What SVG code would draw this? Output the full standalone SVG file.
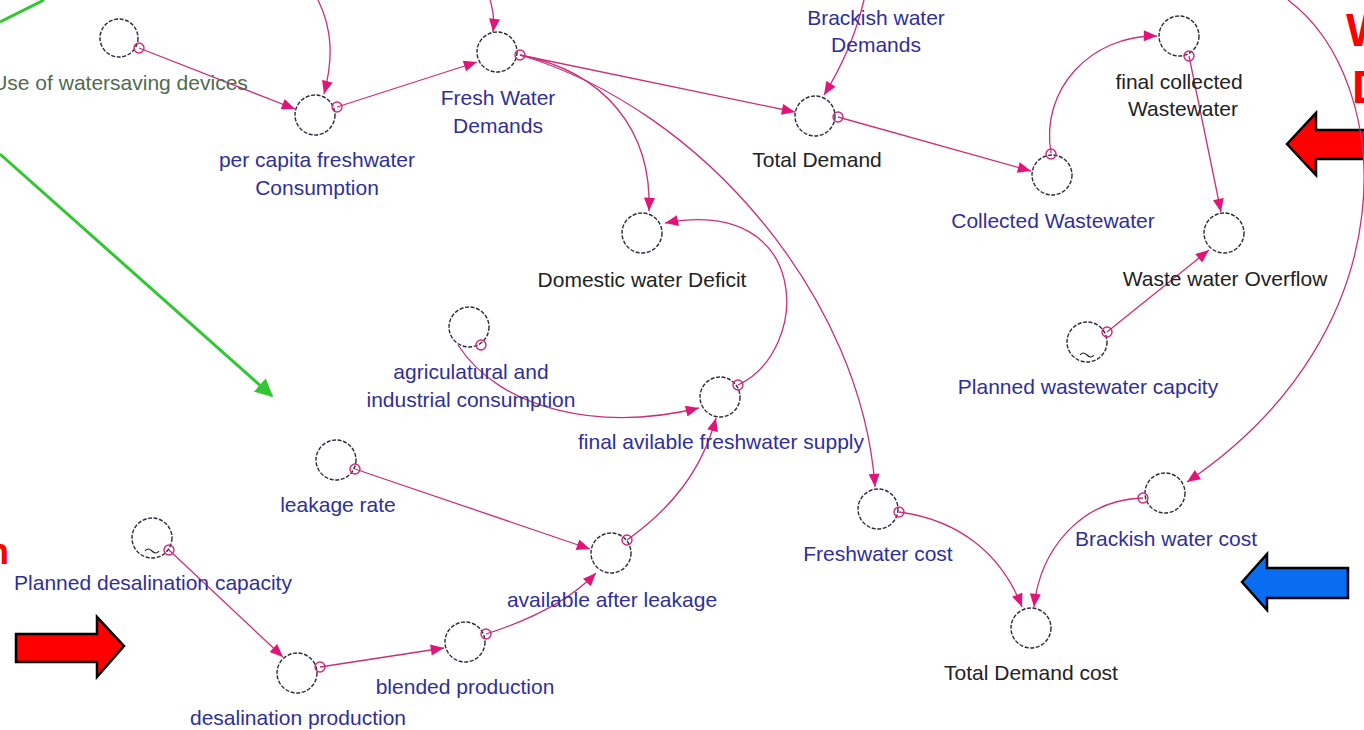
<svg xmlns="http://www.w3.org/2000/svg" width="1364" height="730" viewBox="0 0 1364 730">
<style>
.n{fill:none;stroke:#2a2a3a;stroke-width:1.4;stroke-dasharray:4 1.6}
.o{fill:none;stroke:#d0287a;stroke-width:1.4}
.l{fill:none;stroke:#c8307a;stroke-width:1.3}
.t{font-family:"Liberation Sans",Arial,sans-serif;font-size:21px;text-anchor:middle}
.b{fill:#2f2f9a}
.k{fill:#222}
.g{fill:#4f6b4f}
.big{font-family:"Liberation Sans",Arial,sans-serif;font-weight:bold;fill:#ff0000}
</style>
<defs>
<marker id="ah" viewBox="0 0 12 10" refX="12" refY="5" markerWidth="14" markerHeight="11" markerUnits="userSpaceOnUse" orient="auto">
<path d="M0,0 L12,5 L0,10 Z" fill="#e0157a"/>
</marker>
<marker id="gh" viewBox="0 0 12 12" refX="11" refY="6" markerWidth="18" markerHeight="18" markerUnits="userSpaceOnUse" orient="auto">
<path d="M0,0 L12,6 L0,12 Z" fill="#33c633"/>
</marker>
</defs>
<rect width="1364" height="730" fill="#ffffff"/>

<g id="decor">
<line x1="0" y1="22" x2="44" y2="0" stroke="#33c633" stroke-width="3"/>
<line x1="0" y1="154" x2="272" y2="396" stroke="#33c633" stroke-width="3" marker-end="url(#gh)"/>
<polygon points="16,634 97,634 97,617 124,646 97,677 97,662 16,662" fill="#ff0000" stroke="#000" stroke-width="2.5"/>
<polygon points="1287,144 1316,113 1316,130 1372,130 1372,159 1316,159 1316,175" fill="#ff0000" stroke="#000" stroke-width="2.5"/>
<polygon points="1242,582 1267,554 1267,568 1348,568 1348,598 1267,598 1267,610" fill="#0a6cf0" stroke="#000" stroke-width="2.5"/>
<text class="big" x="-13" y="564" font-size="36">n</text>
<text class="big" x="1346" y="46" font-size="46">W</text>
<text class="big" x="1352" y="103" font-size="46">D</text>
</g>

<g id="connectors">
<line class="l" x1="139" y1="48" x2="295" y2="109" marker-end="url(#ah)"/>
<path class="l" d="M318,0 C333,30 333,60 324,94" marker-end="url(#ah)"/>
<line class="l" x1="337" y1="107" x2="477" y2="62" marker-end="url(#ah)"/>
<path class="l" d="M490,0 Q495,15 493,32" marker-end="url(#ah)"/>
<line class="l" x1="520" y1="55" x2="795" y2="112" marker-end="url(#ah)"/>
<path class="l" d="M520,55 C605,72 652,130 649,211" marker-end="url(#ah)"/>
<path class="l" d="M520,55 C705,110 862,300 875,487" marker-end="url(#ah)"/>
<path class="l" d="M864,0 Q852,50 824,95" marker-end="url(#ah)"/>
<line class="l" x1="838" y1="117" x2="1031" y2="171" marker-end="url(#ah)"/>
<path class="l" d="M1051,153 C1040,90 1090,35 1157,36" marker-end="url(#ah)"/>
<line class="l" x1="1189" y1="56" x2="1221" y2="212" marker-end="url(#ah)"/>
<line class="l" x1="1107" y1="332" x2="1209" y2="250" marker-end="url(#ah)"/>
<path class="l" d="M1288,0 C1395,80 1412,330 1187,482" marker-end="url(#ah)"/>
<path class="l" d="M738,385 C812,350 812,195 665,223" marker-end="url(#ah)"/>
<path class="l" d="M458,345 C500,410 600,432 699,408" marker-end="url(#ah)"/>
<path class="l" d="M627,540 C672,508 702,470 716,418" marker-end="url(#ah)"/>
<line class="l" x1="355" y1="469" x2="590" y2="549" marker-end="url(#ah)"/>
<line class="l" x1="169" y1="550" x2="283" y2="657" marker-end="url(#ah)"/>
<line class="l" x1="320" y1="667" x2="444" y2="648" marker-end="url(#ah)"/>
<path class="l" d="M486,634 C530,620 570,600 596,573" marker-end="url(#ah)"/>
<path class="l" d="M899,512 C960,520 1002,555 1022,607" marker-end="url(#ah)"/>
<path class="l" d="M1143,498 C1080,500 1040,550 1034,607" marker-end="url(#ah)"/>
</g>

<g id="use-of-watersaving-devices">
<circle class="n" cx="119" cy="38" r="19"/><circle class="o" cx="139" cy="48" r="5"/>
<text class="t g" x="120" y="90">Use of watersaving devices</text>
</g>
<g id="per-capita-freshwater-consumption">
<circle class="n" cx="315" cy="115" r="20"/><circle class="o" cx="337" cy="107" r="5"/>
<text class="t b" x="317" y="167">per capita freshwater</text>
<text class="t b" x="317" y="195">Consumption</text>
</g>
<g id="fresh-water-demands">
<circle class="n" cx="497" cy="52" r="20"/><circle class="o" cx="520" cy="55" r="5" stroke-width="2.5"/>
<text class="t b" x="498" y="105">Fresh Water</text>
<text class="t b" x="498" y="133">Demands</text>
</g>
<g id="brackish-water-demands">
<text class="t b" x="876" y="25">Brackish water</text>
<text class="t b" x="876" y="52">Demands</text>
</g>
<g id="total-demand">
<circle class="n" cx="815" cy="116" r="20"/><circle class="o" cx="838" cy="117" r="5"/>
<text class="t k" x="817" y="167">Total Demand</text>
</g>
<g id="collected-wastewater">
<circle class="n" cx="1052" cy="175" r="20"/><circle class="o" cx="1051" cy="154" r="5"/>
<text class="t b" x="1053" y="228">Collected Wastewater</text>
</g>
<g id="final-collected-wastewater">
<circle class="n" cx="1179" cy="36" r="20"/><circle class="o" cx="1189" cy="56" r="5"/>
<text class="t k" x="1179" y="89">final collected</text>
<text class="t k" x="1183" y="116">Wastewater</text>
</g>
<g id="waste-water-overflow">
<circle class="n" cx="1224" cy="233" r="20"/>
<text class="t k" x="1225" y="286">Waste water Overflow</text>
</g>
<g id="planned-wastewater-capcity">
<circle class="n" cx="1087" cy="342" r="20"/><path d="M1080,355 q3,-4 7,0 t7,0" fill="none" stroke="#2a2a3a" stroke-width="1.2"/><circle class="o" cx="1107" cy="332" r="5"/>
<text class="t b" x="1088" y="394">Planned wastewater capcity</text>
</g>
<g id="domestic-water-deficit">
<circle class="n" cx="642" cy="233" r="20"/>
<text class="t k" x="642" y="287">Domestic water Deficit</text>
</g>
<g id="agricultural-and-industrial-consumption">
<circle class="n" cx="469" cy="327" r="20"/><circle class="o" cx="481" cy="345" r="5"/>
<text class="t b" x="471" y="379">agriculatural and</text>
<text class="t b" x="471" y="407">industrial consumption</text>
</g>
<g id="final-available-freshwater-supply">
<circle class="n" cx="720" cy="397" r="20"/><circle class="o" cx="738" cy="385" r="5"/>
<text class="t b" x="721" y="449">final avilable freshwater supply</text>
</g>
<g id="leakage-rate">
<circle class="n" cx="336" cy="460" r="20"/><circle class="o" cx="355" cy="469" r="5"/>
<text class="t b" x="338" y="512">leakage rate</text>
</g>
<g id="available-after-leakage">
<circle class="n" cx="611" cy="553" r="20"/><circle class="o" cx="627" cy="540" r="5"/>
<text class="t b" x="612" y="607">available after leakage</text>
</g>
<g id="freshwater-cost">
<circle class="n" cx="878" cy="509" r="20"/><circle class="o" cx="899" cy="512" r="5"/>
<text class="t b" x="878" y="561">Freshwater cost</text>
</g>
<g id="brackish-water-cost">
<circle class="n" cx="1165" cy="493" r="20"/><circle class="o" cx="1143" cy="498" r="5"/>
<text class="t b" x="1166" y="546">Brackish water cost</text>
</g>
<g id="total-demand-cost">
<circle class="n" cx="1031" cy="628" r="20"/>
<text class="t k" x="1031" y="680">Total Demand cost</text>
</g>
<g id="planned-desalination-capacity">
<circle class="n" cx="152" cy="538" r="20"/><path d="M145,551 q3,-4 7,0 t7,0" fill="none" stroke="#2a2a3a" stroke-width="1.2"/><circle class="o" cx="169" cy="550" r="5"/>
<text class="t b" x="153" y="590">Planned desalination capacity</text>
</g>
<g id="desalination-production">
<circle class="n" cx="297" cy="673" r="20"/><circle class="o" cx="320" cy="667" r="5"/>
<text class="t b" x="298" y="725">desalination production</text>
</g>
<g id="blended-production">
<circle class="n" cx="465" cy="642" r="20"/><circle class="o" cx="486" cy="634" r="5"/>
<text class="t b" x="465" y="694">blended production</text>
</g>
</svg>
